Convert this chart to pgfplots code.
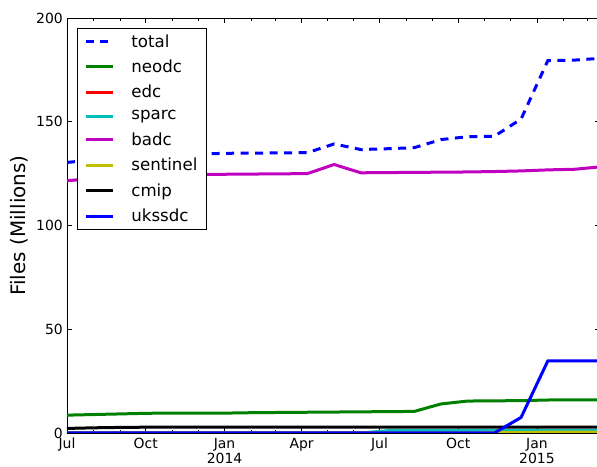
\documentclass[border=0pt]{standalone}
\usepackage{fontspec}
\setmainfont{DejaVu Sans}
\usepackage{pgfplots}
\pgfplotsset{compat=1.18}
\usepackage{pgfplotstable}

\definecolor{mplblue}{rgb}{0,0,1}
\definecolor{mplgreen}{rgb}{0,0.5,0}
\definecolor{mplred}{rgb}{1,0,0}
\definecolor{mplcyan}{rgb}{0,0.75,0.75}
\definecolor{mplmagenta}{rgb}{0.75,0,0.75}
\definecolor{mplyellow}{rgb}{0.75,0.75,0}

% Archive file counts (millions); day = days since 1 Jul 2013
\pgfplotstableread{
day   total neodc edc sparc badc  sentinel cmip ukssdc
0     130.4 8.6   0   0     121.6 0        2.2  0
31.2  131.6 8.9   0   0     122.6 0        2.5  0
62.4  132.6 9.2   0   0     123.3 0        2.7  0
93.6  133.4 9.5   0   0     123.9 0        2.8  0
124.8 134.0 9.6   0   0     124.3 0        2.8  0
156.0 134.5 9.6   0   0     124.6 0        2.8  0
187.2 134.8 9.6   0   0     124.7 0        2.8  0
218.4 134.9 9.8   0   0     124.8 0        2.8  0
249.6 135.0 9.9   0   0     124.9 0        2.8  0
280.8 135.1 10.0  0   0     125.0 0        2.8  0
312.0 139.3 10.1  0   0     129.4 0        2.8  0
343.2 136.6 10.2  0   0     125.4 0        2.8  0
374.4 137.0 10.3  0   1.1   125.5 0        2.8  0
405.6 137.5 10.4  0   1.1   125.6 0        2.8  0
436.8 141.4 14.0  0   1.1   125.7 0        2.8  0
468.0 142.8 15.4  0   1.1   125.8 0        2.8  0
499.2 143.0 15.5  0   1.1   126.0 0.3      2.8  0
530.4 151.3 15.6  0   1.1   126.3 0.3      2.8  7.5
561.6 179.4 15.9  0   1.1   126.8 0.4      2.8  34.7
592.8 179.7 16.0  0   1.1   127.1 0.4      2.8  34.8
624.0 180.6 16.0  0   1.1   128.3 0.4      2.8  34.8
}\archive

\begin{document}
\begin{tikzpicture}
\begin{axis}[
  scale only axis, width=533bp, height=415bp,
  xmin=0, xmax=622.6, ymin=0, ymax=200,
  axis line style={line width=0.8bp},
  tick style={black, line width=0.8bp},
  tick align=inside,
  major tick length=5.5bp, minor tick length=2.8bp,
  xtick={0,92,184,274,365,457,549},
  xticklabels={Jul,Oct,{Jan\\2014},Apr,Jul,Oct,{Jan\\2015}},
  minor xtick={31,62,123,153,215,243,304,335,396,427,488,518,580,608},
  ytick={0,50,100,150,200},
  xticklabel style={align=center, font=\fontsize{14}{15.5}\selectfont, inner sep=1bp, yshift=-4bp},
  yticklabel style={font=\fontsize{14}{16}\selectfont, inner sep=1bp, xshift=-3bp},
  /pgf/number format/assume math mode=true,
  ylabel={Files (Millions)},
  every axis y label/.style={at={(axis description cs:-0.0901,0.5)}, anchor=center,
    rotate=90, font=\fontsize{20}{24}\selectfont},
  every axis plot/.append style={line width=3bp},
  legend image code/.code={\draw[#1] (0bp,0bp) -- (27bp,0bp);},
  legend cell align=left,
  legend style={at={(rel axis cs:0,1)}, xshift=10bp, yshift=-10bp,
    anchor=north west, draw=black, line width=0.8bp,
    font=\fontsize{16.7}{20}\selectfont,
    inner xsep=7bp, inner ysep=4bp, row sep=7.3bp,
    /tikz/every odd column/.append style={column sep=15bp}},
]
\addplot[mplblue, dash pattern=on 8bp off 6.5bp] table[x=day, y=total] {\archive};
\addlegendentry{total}
\addplot[mplgreen] table[x=day, y=neodc] {\archive};
\addlegendentry{neodc}
\addplot[mplred] table[x=day, y=edc] {\archive};
\addlegendentry{edc}
\addplot[mplcyan] table[x=day, y=sparc] {\archive};
\addlegendentry{sparc}
\addplot[mplmagenta] table[x=day, y=badc] {\archive};
\addlegendentry{badc}
\addplot[mplyellow] table[x=day, y=sentinel] {\archive};
\addlegendentry{sentinel}
\addplot[black] table[x=day, y=cmip] {\archive};
\addlegendentry{cmip}
\addplot[mplblue] table[x=day, y=ukssdc] {\archive};
\addlegendentry{ukssdc}
\end{axis}
\pgfresetboundingbox
\path[use as bounding box] (-67bp,-34bp) rectangle (530bp,433bp);
\end{tikzpicture}
\end{document}
